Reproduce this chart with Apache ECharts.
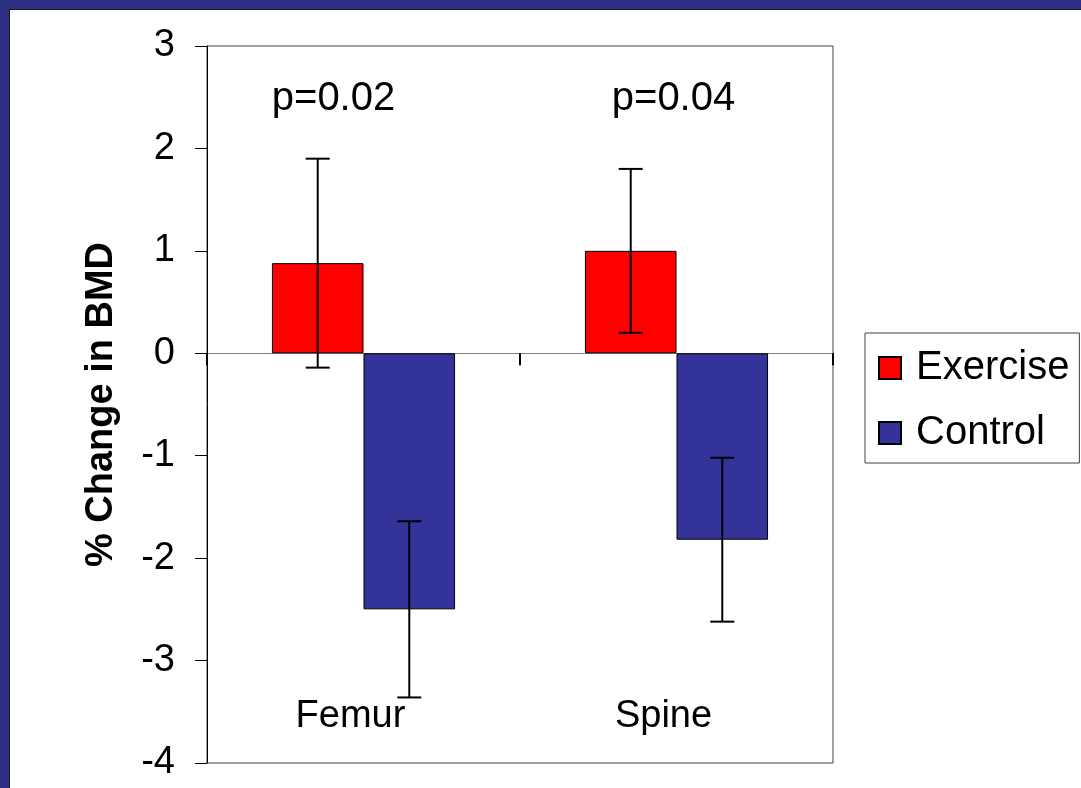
<!DOCTYPE html>
<html>
<head>
<meta charset="utf-8">
<script src="https://cdn.jsdelivr.net/npm/echarts@6/dist/echarts.min.js"></script>
<style>
  html, body { margin: 0; padding: 0; width: 1081px; height: 788px; overflow: hidden; background: #2e2e84; }
  #edge { position: absolute; left: 9px; top: 9px; width: 1072px; height: 779px; background: #1a1a1a; }
  #chart { position: absolute; left: 10px; top: 10px; width: 1071px; height: 778px; background: #ffffff; }
</style>
</head>
<body>
<div id="edge"></div>
<div id="chart"></div>
<script>
// Percent change in bone mineral density, group means with error bars
const categories = ['Femur', 'Spine'];
const seriesNames = ['Exercise', 'Control'];
const exerciseMean = [0.88, 1.00];
const exerciseErr = [1.02, 0.80];
const controlMean = [-2.50, -1.82];
const controlErr = [0.86, 0.80];
const pLabels = ['p=0.02', 'p=0.04'];
const pLabelY = [2.48, 2.48];
const yTicks = [-4, -3, -2, -1, 0, 1, 2, 3];

// layout / style constants
const FONT = '"Liberation Sans", Arial, sans-serif';
const CAT_GAP = 0.415;            // fraction of band left empty around the bar pair
const pLabelShift = [-30, -3];    // horizontal nudge of the p-value captions

const chart = echarts.init(document.getElementById('chart'), null, { renderer: 'canvas' });

function errorSeries(mean, err, side) {
  return {
    type: 'custom',
    xAxisIndex: 0,
    yAxisIndex: 0,
    z: 5,
    silent: true,
    encode: { x: 0, y: 1 },
    data: mean.map((m, i) => [i, m, err[i]]),
    renderItem(params, api) {
      const i = api.value(0), m = api.value(1), e = api.value(2);
      const band = api.size([1, 0])[0];
      const barW = band * (1 - CAT_GAP) / 2;
      const cx = api.coord([i, m])[0] + side * barW / 2;
      const yTop = api.coord([i, m + e])[1];
      const yBot = api.coord([i, m - e])[1];
      const cap = 12;
      const style = { stroke: '#000', lineWidth: 2 };
      return {
        type: 'group',
        children: [
          { type: 'line', shape: { x1: cx, y1: yTop, x2: cx, y2: yBot }, style },
          { type: 'line', shape: { x1: cx - cap, y1: yTop, x2: cx + cap, y2: yTop }, style },
          { type: 'line', shape: { x1: cx - cap, y1: yBot, x2: cx + cap, y2: yBot }, style }
        ]
      };
    }
  };
}

const option = {
  animation: false,
  textStyle: { fontFamily: FONT, color: '#000' },
  grid: {
    left: 197, right: 248, top: 36, bottom: 25,
    show: true, borderColor: '#404040', borderWidth: 1, backgroundColor: 'transparent'
  },
  legend: {
    data: seriesNames,
    orient: 'vertical',
    left: 855, top: 323,
    icon: 'rect',
    itemWidth: 22, itemHeight: 22,
    itemGap: 25,
    padding: [15, 10, 10, 13],
    borderColor: '#404040', borderWidth: 1,
    textStyle: { fontSize: 40, lineHeight: 40, color: '#000', fontFamily: FONT, padding: [0, 0, 0, 10] }
  },
  xAxis: [
    {
      // zero line with the category divider tick
      type: 'category',
      data: categories,
      position: 'top',
      axisLine: { show: true, onZero: true, lineStyle: { color: '#808080', width: 1 } },
      axisTick: { show: true, inside: true, length: 12, lineStyle: { color: '#000', width: 2 } },
      axisLabel: { show: false },
      splitLine: { show: false }
    },
    {
      // category names near the bottom of the plot
      type: 'category',
      data: categories,
      position: 'bottom',
      axisLine: { show: false },
      axisTick: { show: false },
      axisLabel: {
        show: true, fontSize: 38, color: '#000', margin: -46,
        verticalAlign: 'middle', padding: [0, 26, 0, 0]
      },
      splitLine: { show: false }
    }
  ],
  yAxis: {
    type: 'value',
    min: yTicks[0],
    max: yTicks[yTicks.length - 1],
    interval: 1,
    name: '% Change in BMD',
    nameLocation: 'middle',
    nameGap: 86,
    nameTextStyle: { fontSize: 38, fontWeight: 'bold', color: '#000', fontFamily: FONT },
    axisLine: { show: true, lineStyle: { color: '#000', width: 1 } },
    axisTick: { show: true, inside: false, length: 12, lineStyle: { color: '#000', width: 1 } },
    axisLabel: { fontSize: 38, color: '#000', margin: 32 },
    splitLine: { show: false }
  },
  series: [
    {
      name: seriesNames[0],
      type: 'bar',
      xAxisIndex: 0,
      data: exerciseMean,
      itemStyle: { color: '#ff0000', borderColor: '#000', borderWidth: 1 },
      barGap: '0%',
      barCategoryGap: (CAT_GAP * 100) + '%'
    },
    {
      name: seriesNames[1],
      type: 'bar',
      xAxisIndex: 0,
      data: controlMean,
      itemStyle: { color: '#333399', borderColor: '#000', borderWidth: 1 },
      barGap: '0%',
      barCategoryGap: (CAT_GAP * 100) + '%'
    },
    errorSeries(exerciseMean, exerciseErr, -1),
    errorSeries(controlMean, controlErr, 1),
    {
      type: 'scatter',
      xAxisIndex: 0,
      symbolSize: 0,
      silent: true,
      itemStyle: { opacity: 1 },
      data: pLabels.map((t, i) => ({
        name: t,
        value: [i, pLabelY[i]],
        label: { offset: [pLabelShift[i], 0] }
      })),
      label: {
        show: true, position: 'inside', formatter: p => p.name,
        fontSize: 40, color: '#000', opacity: 1, fontFamily: FONT
      }
    }
  ]
};

chart.setOption(option);
</script>
</body>
</html>
